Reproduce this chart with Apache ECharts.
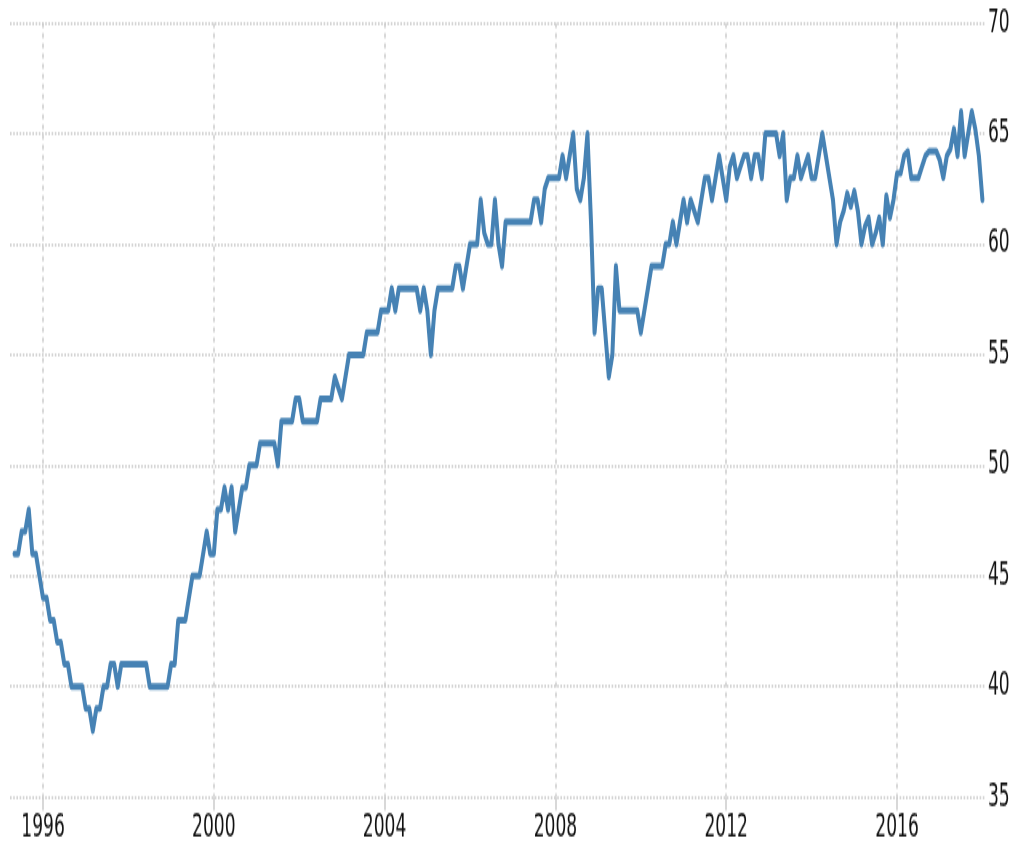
<!DOCTYPE html>
<html>
<head>
<meta charset="utf-8">
<script src="https://cdn.jsdelivr.net/npm/echarts@6/dist/echarts.min.js"></script>
<style>
	html, body { margin: 0; padding: 0; background: #fff; width: 1010px; height: 845px; }
	#main { width: 1010px; height: 500px; transform: scaleY(1.69); transform-origin: 0 0; }
</style>
</head>
<body>
<div id="main"></div>
<script>
// monthly values, starting May 1995
var startYear = 1995;
var startMonth = 5;
var rate = [
	46, 46, 47, 47, 48, 46, 46, 45,
	44, 44, 43, 43, 42, 42, 41, 41, 40, 40, 40, 40,
	39, 39, 38, 39, 39, 40, 40, 41, 41, 40, 41, 41,
	41, 41, 41, 41, 41, 41, 40, 40, 40, 40, 40, 40,
	41, 41, 43, 43, 43, 44, 45, 45, 45, 46, 47, 46,
	46, 48, 48, 49, 48, 49, 47, 48, 49, 49, 50, 50,
	50, 51, 51, 51, 51, 51, 50, 52, 52, 52, 52, 53,
	53, 52, 52, 52, 52, 52, 53, 53, 53, 53, 54, 53.5,
	53, 54, 55, 55, 55, 55, 55, 56, 56, 56, 56, 57,
	57, 57, 58, 57, 58, 58, 58, 58, 58, 58, 57, 58,
	57, 55, 57, 58, 58, 58, 58, 58, 59, 59, 58, 59,
	60, 60, 60, 62, 60.5, 60, 60, 62, 60, 59, 61, 61,
	61, 61, 61, 61, 61, 61, 62, 62, 61, 62.5, 63, 63,
	63, 63, 64, 63, 64, 65, 62.5, 62, 63, 65, 61, 56,
	58, 58, 56, 54, 55, 59, 57, 57, 57, 57, 57, 57,
	56, 57, 58, 59, 59, 59, 59, 60, 60, 61, 60, 61,
	62, 61, 62, 61.5, 61, 62, 63, 63, 62, 63, 64, 63,
	62, 63.5, 64, 63, 63.5, 64, 64, 63, 64, 64, 63, 65,
	65, 65, 65, 64, 65, 62, 63, 63, 64, 63, 63.5, 64,
	63, 63, 64, 65, 64, 63, 62, 60, 61, 61.5, 62.3, 61.7,
	62.4, 61.5, 60, 60.8, 61.2, 60, 60.5, 61.2, 60, 62.2, 61.2, 62,
	63.2, 63.2, 64, 64.2, 63, 63, 63, 63.5, 64, 64.2, 64.2, 64.2,
	63.8, 63, 64, 64.3, 65.2, 64, 66, 64, 65, 66, 65.2, 64,
	62
];
var yearTicks = [1996, 2000, 2004, 2008, 2012, 2016];

// x as decimal year, one point per month
var seriesData = [];
for (var i = 0; i < rate.length; i++) {
	var t = startYear + (startMonth - 1 + i) / 12;
	seriesData.push([t, rate[i]]);
}

var labelFont = {
	fontFamily: '"Liberation Sans Narrow", "DejaVu Sans Condensed", sans-serif',
	fontSize: 19,
	color: '#111'
};

var myChart = echarts.init(document.getElementById('main'));

var option = {
	animation: false,
	grid: {
		left: 10,
		right: 25,
		top: 13.6,
		bottom: 28.4,
		outerBoundsMode: 'none'
	},
	xAxis: {
		type: 'value',
		min: 1995.227,
		max: 2018.06,
		axisLine: { show: false },
		axisTick: {
			show: true,
			length: 8,
			customValues: yearTicks,
			lineStyle: { color: '#cccccc', width: 1.5 }
		},
		axisLabel: Object.assign({
			margin: 9,
			customValues: yearTicks,
			formatter: function(v) {
				return String(Math.round(v));
			}
		}, labelFont),
		splitLine: {
			show: true,
			lineStyle: { color: '#cccccc', width: 1.5, type: [3, 3] }
		}
	},
	yAxis: {
		type: 'value',
		position: 'right',
		min: 35,
		max: 70,
		interval: 5,
		axisLine: { show: false },
		axisTick: { show: false },
		axisLabel: Object.assign({ margin: 3 }, labelFont),
		splitLine: {
			show: true,
			lineStyle: { color: '#c8c8c8', width: 1.6, type: [1.6, 1.6] }
		}
	},
	series: [{
		name: 'rate',
		type: 'line',
		showSymbol: false,
		lineStyle: {
			color: '#4682b4',
			width: 4,
			join: 'round',
			cap: 'round'
		},
		data: seriesData
	}]
};

myChart.setOption(option);
</script>
</body>
</html>
